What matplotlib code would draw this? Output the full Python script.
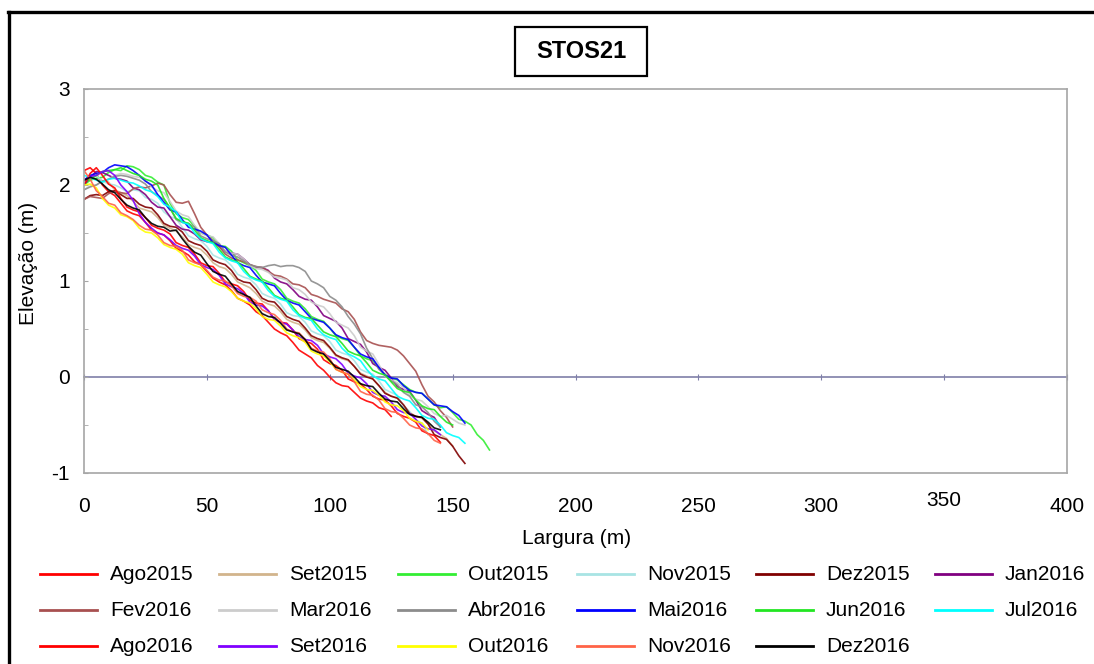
import matplotlib
matplotlib.use("Agg")
import numpy as np
import matplotlib.pyplot as plt
from matplotlib.lines import Line2D
from matplotlib.patches import Rectangle
from matplotlib.transforms import ScaledTranslation

plt.rcParams["font.family"] = ["Liberation Sans", "DejaVu Sans"]
plt.rcParams["axes.unicode_minus"] = False

# Cross-shore distance of the survey points (m), 2.5 m spacing
dist = np.arange(0, 170, 2.5)

# Beach profile elevations (m) for each survey
ago2015 = [2.15, 2.18, 2.12, 2.00, 1.93, 1.89, 1.81, 1.73, 1.70, 1.68, 1.61, 1.53, 1.50, 1.48,
           1.42, 1.34, 1.31, 1.27, 1.20, 1.17, 1.10, 1.03, 0.99, 0.96, 0.90, 0.82, 0.79, 0.75,
           0.68, 0.64, 0.57, 0.50, 0.46, 0.43, 0.36, 0.28, 0.24, 0.20, 0.12, 0.07, 0.00, -0.06,
           -0.09, -0.10, -0.16, -0.22, -0.25, -0.27, -0.32, -0.34, -0.41]
set2015 = [2.00, 2.06, 2.10, 2.04, 2.03, 1.95, 1.92, 1.89, 1.83, 1.76, 1.74, 1.72, 1.66, 1.58,
           1.55, 1.52, 1.46, 1.38, 1.35, 1.33, 1.27, 1.19, 1.15, 1.13, 1.07, 0.99, 0.96, 0.93,
           0.87, 0.79, 0.76, 0.74, 0.68, 0.60, 0.57, 0.55, 0.49, 0.41, 0.38, 0.36, 0.30, 0.22,
           0.19, 0.17, 0.11, 0.04, 0.01, -0.02, -0.09, -0.16, -0.20, -0.22, -0.29, -0.37, -0.41,
           -0.43, -0.49, -0.56, -0.60, -0.64, -0.72]
out2015 = [2.00, 2.05, 2.07, 2.08, 2.13, 2.16, 2.15, 2.20, 2.19, 2.16, 2.10, 2.08, 2.03, 2.00,
           1.81, 1.70, 1.66, 1.64, 1.57, 1.50, 1.48, 1.45, 1.37, 1.36, 1.31, 1.22, 1.19, 1.16,
           1.11, 1.02, 0.99, 0.97, 0.91, 0.82, 0.79, 0.77, 0.71, 0.63, 0.60, 0.58, 0.51, 0.43,
           0.40, 0.38, 0.31, 0.22, 0.19, 0.17, 0.09, 0.02, -0.01, -0.03, -0.08, -0.13, -0.16,
           -0.17, -0.23, -0.29, -0.32, -0.31, -0.37, -0.44, -0.46, -0.50, -0.60, -0.66, -0.76]
nov2015 = [2.05, 2.09, 2.10, 2.04, 2.01, 2.00, 1.97, 1.93, 1.95, 1.94, 1.87, 1.85, 1.81, 1.72,
           1.67, 1.65, 1.56, 1.47, 1.44, 1.42, 1.36, 1.27, 1.24, 1.22, 1.16, 1.07, 1.04, 1.02,
           0.96, 0.87, 0.84, 0.82, 0.76, 0.67, 0.64, 0.63, 0.57, 0.48, 0.45, 0.43, 0.37, 0.28,
           0.25, 0.23, 0.17, 0.08, 0.05, 0.03, -0.04, -0.13, -0.16, -0.19, -0.30, -0.36, -0.45,
           -0.48, -0.60]
dez2015 = [1.85, 1.89, 1.90, 1.89, 1.93, 1.94, 1.90, 1.86, 1.86, 1.80, 1.77, 1.76, 1.69, 1.60,
           1.57, 1.56, 1.51, 1.42, 1.39, 1.37, 1.31, 1.22, 1.19, 1.17, 1.11, 1.02, 0.99, 0.98,
           0.91, 0.82, 0.79, 0.78, 0.71, 0.63, 0.60, 0.58, 0.51, 0.43, 0.40, 0.38, 0.31, 0.23,
           0.20, 0.18, 0.11, 0.03, 0.00, -0.02, -0.09, -0.17, -0.20, -0.22, -0.29, -0.38, -0.41,
           -0.42, -0.49, -0.60, -0.63, -0.65, -0.72, -0.82, -0.90]
jan2016 = [2.00, 2.08, 2.14, 2.13, 2.10, 2.07, 2.06, 2.04, 1.97, 1.95, 1.90, 1.82, 1.77, 1.76,
           1.67, 1.58, 1.54, 1.53, 1.49, 1.43, 1.41, 1.40, 1.36, 1.31, 1.29, 1.28, 1.23, 1.17,
           1.14, 1.14, 1.11, 1.03, 0.99, 0.97, 0.91, 0.84, 0.81, 0.80, 0.73, 0.64, 0.61, 0.58,
           0.51, 0.40, 0.37, 0.34, 0.26, 0.14, 0.10, 0.07, -0.01, -0.10, -0.13, -0.15, -0.24,
           -0.35, -0.39, -0.42, -0.52]
fev2016 = [1.85, 1.88, 1.87, 1.86, 1.91, 1.93, 1.92, 1.91, 1.96, 1.98, 1.97, 1.99, 2.02, 2.00,
           1.90, 1.82, 1.81, 1.83, 1.70, 1.56, 1.48, 1.42, 1.36, 1.28, 1.24, 1.22, 1.20, 1.17,
           1.15, 1.14, 1.10, 1.06, 1.05, 1.02, 0.97, 0.96, 0.93, 0.86, 0.84, 0.81, 0.79, 0.77,
           0.71, 0.68, 0.60, 0.47, 0.38, 0.35, 0.33, 0.32, 0.31, 0.28, 0.22, 0.14, 0.06, -0.08,
           -0.20, -0.26, -0.35, -0.42, -0.52]
mar2016 = [1.95, 1.99, 2.00, 2.04, 2.06, 2.10, 2.12, 2.11, 2.09, 2.08, 2.05, 1.98, 1.94, 1.92,
           1.83, 1.73, 1.69, 1.67, 1.58, 1.50, 1.47, 1.46, 1.39, 1.31, 1.29, 1.28, 1.23, 1.16,
           1.13, 1.12, 1.09, 1.04, 1.03, 1.01, 0.93, 0.91, 0.86, 0.78, 0.75, 0.73, 0.66, 0.57,
           0.54, 0.51, 0.43, 0.31, 0.27, 0.24, 0.13, 0.01, -0.03, -0.06, -0.11, -0.19, -0.23,
           -0.25, -0.31, -0.38, -0.41, -0.40, -0.44, -0.48, -0.50]
abr2016 = [1.95, 1.98, 2.00, 2.04, 2.06, 2.09, 2.10, 2.09, 2.07, 2.05, 2.01, 1.93, 1.89, 1.85,
           1.76, 1.64, 1.61, 1.60, 1.56, 1.47, 1.44, 1.42, 1.39, 1.30, 1.27, 1.25, 1.21, 1.17,
           1.15, 1.14, 1.16, 1.17, 1.15, 1.16, 1.16, 1.14, 1.10, 1.00, 0.97, 0.93, 0.84, 0.80,
           0.73, 0.63, 0.55, 0.45, 0.30, 0.19, 0.08, 0.03, -0.04, -0.08, -0.16, -0.20, -0.29,
           -0.31, -0.37, -0.46, -0.52]
mai2016 = [2.05, 2.10, 2.12, 2.13, 2.18, 2.21, 2.20, 2.19, 2.15, 2.10, 2.04, 2.00, 1.90, 1.82,
           1.74, 1.72, 1.64, 1.56, 1.54, 1.52, 1.48, 1.40, 1.37, 1.35, 1.27, 1.19, 1.16, 1.14,
           1.06, 0.99, 0.97, 0.95, 0.87, 0.80, 0.77, 0.75, 0.68, 0.61, 0.59, 0.57, 0.51, 0.44,
           0.41, 0.39, 0.31, 0.24, 0.21, 0.19, 0.10, 0.02, -0.01, -0.02, -0.09, -0.14, -0.16,
           -0.17, -0.23, -0.29, -0.30, -0.31, -0.36, -0.40, -0.48]
jun2016 = [2.05, 2.06, 2.10, 2.14, 2.15, 2.16, 2.18, 2.15, 2.12, 2.10, 2.06, 2.04, 2.00, 1.86,
           1.76, 1.65, 1.62, 1.60, 1.53, 1.45, 1.42, 1.40, 1.33, 1.25, 1.22, 1.20, 1.13, 1.05,
           1.02, 1.00, 0.93, 0.85, 0.82, 0.80, 0.73, 0.65, 0.62, 0.61, 0.54, 0.47, 0.44, 0.42,
           0.35, 0.27, 0.24, 0.22, 0.15, 0.07, 0.04, 0.02, -0.05, -0.12, -0.15, -0.16, -0.24,
           -0.30, -0.33, -0.34, -0.41, -0.47, -0.50]
jul2016 = [2.10, 2.08, 2.05, 2.03, 2.06, 2.07, 2.05, 2.03, 2.02, 1.99, 1.95, 1.93, 1.88, 1.80,
           1.77, 1.72, 1.61, 1.59, 1.50, 1.44, 1.41, 1.39, 1.30, 1.24, 1.21, 1.19, 1.10, 1.04,
           1.01, 0.99, 0.90, 0.84, 0.81, 0.79, 0.70, 0.64, 0.61, 0.59, 0.50, 0.44, 0.41, 0.39,
           0.30, 0.24, 0.21, 0.17, 0.08, 0.01, -0.02, -0.04, -0.12, -0.20, -0.23, -0.25, -0.32,
           -0.40, -0.43, -0.44, -0.50, -0.58, -0.61, -0.63, -0.69]
ago2016 = [2.00, 2.12, 2.18, 2.10, 2.01, 1.97, 1.86, 1.77, 1.74, 1.72, 1.66, 1.58, 1.55, 1.53,
           1.49, 1.40, 1.37, 1.35, 1.28, 1.19, 1.16, 1.15, 1.08, 0.99, 0.97, 0.95, 0.89, 0.80,
           0.77, 0.76, 0.69, 0.60, 0.57, 0.56, 0.49, 0.40, 0.37, 0.35, 0.29, 0.18, 0.14, 0.12,
           0.07, -0.02, -0.05, -0.07, -0.13, -0.20, -0.23, -0.24, -0.30, -0.38, -0.41, -0.43,
           -0.47, -0.56, -0.59, -0.61, -0.68]
set2016 = [2.05, 2.09, 2.10, 2.14, 2.15, 2.10, 2.00, 1.93, 1.84, 1.70, 1.61, 1.55, 1.50, 1.48,
           1.43, 1.37, 1.34, 1.32, 1.26, 1.17, 1.14, 1.12, 1.06, 0.97, 0.94, 0.92, 0.87, 0.78,
           0.75, 0.74, 0.69, 0.60, 0.57, 0.55, 0.49, 0.42, 0.39, 0.38, 0.33, 0.24, 0.21, 0.19,
           0.13, 0.04, 0.01, -0.01, -0.07, -0.16, -0.19, -0.20, -0.26, -0.34, -0.37, -0.38,
           -0.44, -0.51, -0.54, -0.55, -0.60]
out2016 = [2.00, 2.01, 1.97, 1.86, 1.79, 1.76, 1.69, 1.67, 1.63, 1.55, 1.51, 1.50, 1.45, 1.38,
           1.35, 1.33, 1.28, 1.19, 1.16, 1.14, 1.07, 0.99, 0.96, 0.94, 0.89, 0.82, 0.79, 0.77,
           0.71, 0.63, 0.60, 0.59, 0.53, 0.46, 0.43, 0.41, 0.36, 0.27, 0.24, 0.22, 0.16, 0.08,
           0.05, 0.03, -0.03, -0.10, -0.13, -0.14, -0.19, -0.26, -0.29, -0.30, -0.35, -0.43,
           -0.46, -0.48, -0.55]
nov2016 = [2.15, 2.06, 1.94, 1.88, 1.81, 1.79, 1.71, 1.68, 1.64, 1.58, 1.54, 1.53, 1.48, 1.40,
           1.37, 1.36, 1.32, 1.22, 1.19, 1.17, 1.11, 1.04, 1.01, 1.00, 0.95, 0.87, 0.84, 0.83,
           0.79, 0.70, 0.67, 0.65, 0.59, 0.50, 0.47, 0.46, 0.39, 0.30, 0.27, 0.26, 0.19, 0.08,
           0.05, 0.03, -0.05, -0.15, -0.18, -0.19, -0.24, -0.33, -0.36, -0.37, -0.43, -0.50,
           -0.53, -0.54, -0.59, -0.66, -0.69]
dez2016 = [2.05, 2.08, 2.06, 2.01, 1.95, 1.92, 1.85, 1.79, 1.76, 1.74, 1.66, 1.60, 1.57, 1.56,
           1.52, 1.53, 1.44, 1.36, 1.30, 1.27, 1.18, 1.10, 1.07, 1.05, 0.97, 0.89, 0.86, 0.83,
           0.74, 0.66, 0.63, 0.62, 0.56, 0.49, 0.47, 0.45, 0.39, 0.29, 0.26, 0.24, 0.17, 0.10,
           0.08, 0.06, 0.00, -0.07, -0.09, -0.10, -0.17, -0.23, -0.25, -0.26, -0.33, -0.39,
           -0.41, -0.42, -0.47, -0.53, -0.55]

labels = ["Ago2015", "Set2015", "Out2015", "Nov2015", "Dez2015", "Jan2016",
          "Fev2016", "Mar2016", "Abr2016", "Mai2016", "Jun2016", "Jul2016",
          "Ago2016", "Set2016", "Out2016", "Nov2016", "Dez2016"]
profiles = [ago2015, set2015, out2015, nov2015, dez2015, jan2016,
            fev2016, mar2016, abr2016, mai2016, jun2016, jul2016,
            ago2016, set2016, out2016, nov2016, dez2016]
colors = ["#FF0000", "#D2B48C", "#33EE33", "#A8E4E4", "#800000", "#800080",
          "#A85050", "#CCCCCC", "#8C8C8C", "#0000FF", "#22E622", "#00FFFF",
          "#FF0000", "#8000FF", "#FFFF00", "#FF6347", "#000000"]

x_ticks = [0, 50, 100, 150, 200, 250, 300, 350, 400]
y_ticks = [-1, 0, 1, 2, 3]

W, H = 1094, 664
fig = plt.figure(figsize=(W / 100, H / 100), dpi=100)
fig.patch.set_facecolor("white")

# outer chart frame (top and left edges)
fig.add_artist(Line2D([8 / W, 1.0], [1 - 12 / H, 1 - 12 / H], color="black", lw=2.4))
fig.add_artist(Line2D([9 / W, 9 / W], [1 - 12 / H, 0.0], color="black", lw=2.4))

ax = fig.add_axes([84 / W, 1 - 473 / H, (1067 - 84) / W, (473 - 89) / H])

for y, c, lab in zip(profiles, colors, labels):
    ax.plot(dist[:len(y)], y, color=c, lw=1.2, alpha=0.9, label=lab, solid_joinstyle="round")

ax.set_xlim(0, 400)
ax.set_ylim(-1, 3)
ax.set_xticks(x_ticks)
ax.set_yticks(y_ticks)
ax.set_yticks([-0.5, 0.5, 1.5, 2.5], minor=True)
for s in ax.spines.values():
    s.set_color("#A6A6A6")
    s.set_linewidth(1.2)
ax.tick_params(axis="x", length=0, pad=17, labelsize=15)
ax.tick_params(axis="y", which="both", direction="in", length=3, color="#A6A6A6",
               pad=10, labelsize=15)

# the "350" label sits a little higher than its neighbours
lab350 = ax.get_xticklabels()[x_ticks.index(350)]
lab350.set_transform(lab350.get_transform() + ScaledTranslation(0, 4 / 72, fig.dpi_scale_trans))

# zero elevation axis with its tick marks
zero_axis = ax.secondary_xaxis(0.25)
zero_axis.spines["bottom"].set_color("#7F7FA8")
zero_axis.spines["bottom"].set_linewidth(1.2)
zero_axis.set_xticks(x_ticks)
zero_axis.tick_params(axis="x", direction="inout", length=4, color="#7F7FA8",
                      labelbottom=False)

fig.text(577 / W, 1 - 538 / H, "Largura (m)", ha="center", va="center", fontsize=15)
fig.text(28 / W, 1 - 263 / H, "Elevação (m)", ha="center", va="center",
         rotation=90, fontsize=15)

# title box
fig.add_artist(Rectangle((515 / W, 1 - 76 / H), 132 / W, 49 / H, transform=fig.transFigure,
                         fill=False, edgecolor="black", lw=1.6))
fig.text(581 / W, 1 - 51 / H, "STOS21", ha="center", va="center", fontsize=17,
         fontweight="bold")

# legend laid out in a 6-column grid
for i, (c, lab) in enumerate(zip(colors, labels)):
    r, k = divmod(i, 6)
    x0 = 40 + 179 * k
    yy = 1 - (574 + 36 * r) / H
    fig.add_artist(Line2D([x0 / W, (x0 + 57) / W], [yy, yy], color=c, lw=2.0))
    fig.text((x0 + 70) / W, yy, lab, ha="left", va="center", fontsize=15)

fig.savefig("out.png", dpi=100)
